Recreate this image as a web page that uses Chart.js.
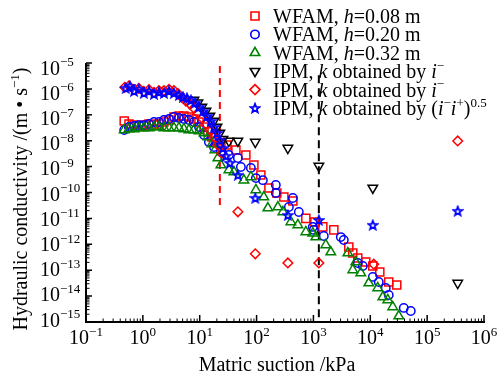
<!DOCTYPE html>
<html><head><meta charset="utf-8">
<script src="https://cdn.jsdelivr.net/npm/chart.js@4/dist/chart.umd.min.js"></script>
<style>html,body{margin:0;padding:0;background:#fff;overflow:hidden}</style>
</head><body>
<canvas id="c" width="497" height="379"></canvas>
<script>
const FONT = '"Liberation Serif","Times New Roman",serif';

// ---- tick labels ----
const xTickVals = [1e-1, 1e0, 1e1, 1e2, 1e3, 1e4, 1e5, 1e6];
const xTickExp  = ['\u22121', '0', '1', '2', '3', '4', '5', '6'];
const yTickVals = [1e-5, 1e-6, 1e-7, 1e-8, 1e-9, 1e-10, 1e-11, 1e-12, 1e-13, 1e-14, 1e-15];
const yTickExp  = ['\u22125', '\u22126', '\u22127', '\u22128', '\u22129', '\u221210', '\u221211', '\u221212', '\u221213', '\u221214', '\u221215'];

// ---- WFAM, h = 0.08 m (red squares) ----
const wfam008S = [0.47,0.57,0.70,0.85,1.04,1.28,1.57,1.92,2.35,2.88,3.52,4.31,5.27,6.46,7.91,9.7,11.9,13.9,16.4,19.3,23.6,30.1,43.3,64.8,89.7,119,165,227,302,435,735,1059,1463,2284,4190,4920,6030,8330,11070,14700,21100,29200];
const wfam008K = [5.8e-8,4.4e-8,4.0e-8,3.7e-8,4.0e-8,4.4e-8,4.0e-8,4.4e-8,5.3e-8,6.3e-8,8.2e-8,9.0e-8,9.0e-8,8.2e-8,6.9e-8,5.3e-8,3.4e-8,2.2e-8,1.4e-8,9.7e-9,8.1e-9,6.8e-9,4.4e-9,2.8e-9,1.15e-9,4.7e-10,1.5e-10,9.6e-11,6.7e-11,4.7e-11,1.0e-11,7.3e-12,4.7e-12,3.6e-12,7.9e-13,4.6e-13,2.96e-13,2.07e-13,1.45e-13,8.5e-14,3.5e-14,2.7e-14];

// ---- WFAM, h = 0.20 m (blue circles) ----
const wfam020S = [0.47,0.57,0.70,0.85,1.04,1.28,1.57,1.92,2.35,2.88,3.52,4.31,5.27,6.46,7.91,9.7,11.9,14.5,17.8,23.6,32.6,46.9,53,79.4,97.3,129,218,218,370,435,553,975,1016,1523,3030,3420,6030,7380,11070,14100,18700,21100,38800,51500];
const wfam020K = [2.6e-8,3.4e-8,3.7e-8,4.0e-8,4.0e-8,4.4e-8,5.3e-8,5.3e-8,6.3e-8,6.9e-8,8.2e-8,7.5e-8,6.9e-8,6.3e-8,5.3e-8,3.4e-8,1.66e-8,8.9e-9,5.7e-9,3.7e-9,2.8e-9,2.15e-9,9.7e-10,8.8e-10,3.6e-10,3.0e-10,1.95e-10,9.6e-11,2.75e-11,6.1e-11,1.77e-11,4.7e-12,3.6e-12,2.1e-12,1.9e-12,1.47e-12,1.9e-13,1.45e-13,5.5e-14,3.5e-14,2.06e-14,1.1e-14,3.5e-15,2.66e-15];

// ---- WFAM, h = 0.32 m (green triangles) ----
const wfam032S = [0.47,0.57,0.70,0.85,1.04,1.28,1.57,1.92,2.35,2.88,3.52,4.31,5.27,6.46,7.91,9.7,11.9,13.9,16.4,18.5,20.9,23.6,32.6,39.9,59.8,79.4,97.3,134,158,237,290,401,532,735,975,1100,1650,2020,4030,5560,4920,6800,9420,13500,16600,20300,24800,31700];
const wfam032K = [2.6e-8,2.83e-8,2.83e-8,3.1e-8,3.1e-8,3.1e-8,3.4e-8,3.4e-8,3.1e-8,3.1e-8,3.1e-8,3.1e-8,2.83e-8,2.6e-8,2.6e-8,2.37e-8,1.98e-8,1.4e-8,7.5e-9,4.4e-9,2.15e-9,1.15e-9,7.4e-10,6.2e-10,3.0e-10,4.0e-10,1.25e-10,6.7e-11,2.5e-11,2.75e-11,1.77e-11,7.3e-12,5.6e-12,3.0e-12,2.7e-12,1.9e-12,9.4e-13,5.0e-13,4.6e-13,2.07e-13,1.02e-13,7.8e-14,3.2e-14,2.06e-14,9.2e-15,7.1e-15,3.8e-15,1.7e-15];

// ---- IPM, k by i- (black down triangles) ----
const ipmBlackS = [7.91,9.3,10.9,12.9,15.1,17.8,20.1,22.6,25.6,32.6,46.9,95,355,1245,11070,345000];
const ipmBlackK = [3.7e-7,2.9e-7,2.0e-7,1.4e-7,9.0e-8,5.8e-8,3.4e-8,2.0e-8,1.15e-8,9.7e-9,9.8e-9,8.9e-9,5.2e-9,1.05e-9,1.5e-10,3.2e-14];

// ---- IPM, k by i- (red diamonds) ----
const ipmRedS = [0.48,0.57,0.70,0.85,1.04,1.28,1.57,1.92,2.35,2.88,3.52,4.14,4.86,5.71,6.73,7.9,9.3,10.9,12.9,15.1,17.8,20.9,24.5,46.9,95,355,1245,11500,345000];
const ipmRedK = [1.15e-6,1.3e-6,9.3e-7,1.05e-6,8.0e-7,9.3e-7,7.4e-7,8.6e-7,8.6e-7,9.6e-7,8.6e-7,6.6e-7,4.7e-7,3.4e-7,2.6e-7,1.8e-7,1.17e-7,7.5e-8,4.4e-8,2.6e-8,1.4e-8,6.8e-9,3.3e-9,1.8e-11,4.3e-13,1.9e-13,1.9e-13,1.7e-13,9.8e-9];

// ---- IPM, k by (i- i+)^0.5 (blue stars) ----
const ipmStarS = [0.50,0.59,0.70,0.85,1.04,1.28,1.57,1.92,2.35,2.88,3.52,4.31,5.07,5.96,7.0,8.2,9.7,11.4,13.4,15.7,17.8,20.1,22.6,25.6,28.8,33.9,46.9,95,355,1245,11070,345000];
const ipmStarK = [1.08e-6,1.3e-6,8.3e-7,9.9e-7,7.0e-7,8.3e-7,6.4e-7,7.6e-7,7.0e-7,8.3e-7,7.0e-7,5.8e-7,4.9e-7,4.5e-7,3.7e-7,2.9e-7,2.0e-7,1.4e-7,9.0e-8,5.8e-8,3.4e-8,2.0e-8,1.06e-8,5.2e-9,2.6e-9,1.4e-9,4.8e-10,6.2e-11,1.35e-11,8.7e-12,5.6e-12,1.95e-11];

// ---- reference lines ----
const redLineS = [22.6, 22.6];
const redLineK = [7.6e-6, 2.8e-11];
const blackLineS = [1245, 1245];
const blackLineK = [3.4e-6, 1e-15];

const RED = '#ff0000', BLUE = '#0000ff', GREEN = '#008000', BLACK = '#000000';

function pts(s, k) { return s.map((v, i) => ({ x: v, y: k[i] })); }

function makeStar(size) {
  const c = document.createElement('canvas');
  c.width = size; c.height = size;
  const g = c.getContext('2d');
  g.strokeStyle = BLUE; g.lineWidth = 1.8; g.lineJoin = 'miter';
  g.beginPath();
  for (let i = 0; i < 10; i++) {
    const r = i % 2 ? 2.0 : 4.6;
    const a = -Math.PI / 2 + i * Math.PI / 5;
    const px = size / 2 + r * Math.cos(a), py = size / 2 + 0.5 + r * Math.sin(a);
    if (i) g.lineTo(px, py); else g.moveTo(px, py);
  }
  g.closePath(); g.stroke();
  return c;
}
const starImg = makeStar(12);

function ds(s, k, color, style, radius, rot) {
  return {
    data: pts(s, k), pointStyle: style, pointRadius: radius, pointRotation: rot || 0,
    pointBorderColor: color, pointBackgroundColor: 'rgba(0,0,0,0)', pointBorderWidth: 1.5,
    showLine: false, clip: false
  };
}

function sup(ctx, runs, x, y, size) {
  let cx = x;
  for (const r of runs) {
    if (r.sp) {
      ctx.font = Math.round(size * 0.65) + 'px ' + FONT;
      ctx.fillText(r.t, cx, y - size * 0.42);
    } else {
      ctx.font = (r.it ? 'italic ' : '') + size + 'px ' + FONT;
      ctx.fillText(r.t, cx, y);
    }
    cx += ctx.measureText(r.t).width;
  }
  return cx - x;
}
function runsWidth(ctx, runs, size) {
  let w = 0;
  for (const r of runs) {
    ctx.font = r.sp ? Math.round(size * 0.65) + 'px ' + FONT : (r.it ? 'italic ' : '') + size + 'px ' + FONT;
    w += ctx.measureText(r.t).width;
  }
  return w;
}

function marker(ctx, kind, x, y) {
  ctx.save();
  ctx.lineWidth = 1.6;
  ctx.beginPath();
  if (kind === 'sq') { ctx.strokeStyle = RED; ctx.rect(x - 4, y - 4, 8, 8); }
  else if (kind === 'ci') { ctx.strokeStyle = BLUE; ctx.arc(x, y, 4.2, 0, Math.PI * 2); }
  else if (kind === 'tu') { ctx.strokeStyle = GREEN; ctx.moveTo(x, y - 5.5); ctx.lineTo(x + 4.76, y + 2.75); ctx.lineTo(x - 4.76, y + 2.75); ctx.closePath(); }
  else if (kind === 'td') { ctx.strokeStyle = BLACK; ctx.moveTo(x, y + 5.5); ctx.lineTo(x + 4.76, y - 2.75); ctx.lineTo(x - 4.76, y - 2.75); ctx.closePath(); }
  else if (kind === 'di') { ctx.strokeStyle = RED; ctx.moveTo(x, y - 5); ctx.lineTo(x + 5, y); ctx.lineTo(x, y + 5); ctx.lineTo(x - 5, y); ctx.closePath(); }
  if (kind === 'st') { ctx.drawImage(starImg, x - 6, y - 6); }
  else ctx.stroke();
  ctx.restore();
}

const legendItems = [
  { m: 'sq', runs: [{ t: 'WFAM, ' }, { t: 'h', it: true }, { t: '=0.08 m' }] },
  { m: 'ci', runs: [{ t: 'WFAM, ' }, { t: 'h', it: true }, { t: '=0.20 m' }] },
  { m: 'tu', runs: [{ t: 'WFAM, ' }, { t: 'h', it: true }, { t: '=0.32 m' }] },
  { m: 'td', runs: [{ t: 'IPM, ' }, { t: 'k', it: true }, { t: ' obtained by ' }, { t: 'i', it: true }, { t: '\u2212', sp: true }] },
  { m: 'di', runs: [{ t: 'IPM, ' }, { t: 'k', it: true }, { t: ' obtained by ' }, { t: 'i', it: true }, { t: '\u2212', sp: true }] },
  { m: 'st', runs: [{ t: 'IPM, ' }, { t: 'k', it: true }, { t: ' obtained by (' }, { t: 'i', it: true }, { t: '\u2212', sp: true }, { t: 'i', it: true }, { t: '+', sp: true }, { t: ')' }, { t: '0.5', sp: true }] }
];

const deco = {
  id: 'deco',
  afterDraw(chart) {
    const { ctx, chartArea: a, scales: { x, y } } = chart;
    ctx.save();
    ctx.fillStyle = '#000'; ctx.strokeStyle = '#000';
    ctx.lineWidth = 2;
    ctx.beginPath();
    ctx.moveTo(a.left, a.top); ctx.lineTo(a.left, a.bottom); ctx.lineTo(a.right + 1, a.bottom);
    ctx.stroke();
    ctx.lineWidth = 1.5;
    ctx.beginPath();
    for (const v of xTickVals) { const px = x.getPixelForValue(v); ctx.moveTo(px, a.bottom); ctx.lineTo(px, a.bottom - 7); }
    for (const v of yTickVals) { const py = y.getPixelForValue(v); ctx.moveTo(a.left, py); ctx.lineTo(a.left + 6, py); }
    ctx.stroke();
    ctx.lineWidth = 1;
    ctx.beginPath();
    for (let d = -1; d < 6; d++) for (let m = 2; m < 10; m++) {
      const px = x.getPixelForValue(m * Math.pow(10, d)); ctx.moveTo(px, a.bottom); ctx.lineTo(px, a.bottom - 3.5);
    }
    for (let d = -15; d < -5; d++) for (let m = 2; m < 10; m++) {
      const py = y.getPixelForValue(m * Math.pow(10, d)); ctx.moveTo(a.left, py); ctx.lineTo(a.left + 3.5, py);
    }
    ctx.stroke();
    ctx.textBaseline = 'alphabetic'; ctx.textAlign = 'left';
    const FS = 20;
    xTickVals.forEach((v, i) => {
      const px = x.getPixelForValue(v);
      const runs = [{ t: '10' }, { t: xTickExp[i], sp: true }];
      const w = runsWidth(ctx, runs, FS);
      sup(ctx, runs, px - w / 2, 344, FS);
    });
    yTickVals.forEach((v, i) => {
      const py = y.getPixelForValue(v);
      const off = 5 - 0.7 * i;
      sup(ctx, [{ t: '10' }, { t: yTickExp[i], sp: true }], 40, py + off + 6.5, FS);
    });
    const xt = [{ t: 'Matric suction /kPa' }];
    sup(ctx, xt, 277 - runsWidth(ctx, xt, FS) / 2, 371, FS);
    ctx.save();
    ctx.translate(27, 199);
    ctx.rotate(-Math.PI / 2);
    const yt = [{ t: 'Hydraulic conductivity /(m \u2022 s' }, { t: '\u22121', sp: true }, { t: ')' }];
    sup(ctx, yt, -runsWidth(ctx, yt, FS) / 2, 0, FS);
    ctx.restore();
    legendItems.forEach((it, i) => {
      const cy = 16 + i * 18.4;
      marker(ctx, it.m, 255, cy);
      ctx.fillStyle = '#000';
      sup(ctx, it.runs, 273, cy + 7, FS);
    });
    ctx.restore();
  }
};

new Chart(document.getElementById('c').getContext('2d'), {
  type: 'scatter',
  data: {
    datasets: [
      ds(ipmStarS, ipmStarK, BLUE, starImg, 5),
      ds(ipmRedS, ipmRedK, RED, 'rectRot', 4.8),
      ds(ipmBlackS, ipmBlackK, BLACK, 'triangle', 5.5, 180),
      ds(wfam032S, wfam032K, GREEN, 'triangle', 5.5),
      ds(wfam020S, wfam020K, BLUE, 'circle', 4.2),
      ds(wfam008S, wfam008K, RED, 'rect', 5.7),
      { data: pts(redLineS, redLineK), showLine: true, borderColor: RED, borderWidth: 2, borderDash: [7, 5], pointRadius: 0, clip: false },
      { data: pts(blackLineS, blackLineK), showLine: true, borderColor: BLACK, borderWidth: 2, borderDash: [8, 5], pointRadius: 0, clip: false }
    ]
  },
  options: {
    responsive: false, animation: false, devicePixelRatio: 1,
    layout: { padding: { left: 86, right: 13, top: 63, bottom: 57 } },
    plugins: { legend: { display: false }, tooltip: { enabled: false } },
    scales: {
      x: { type: 'logarithmic', min: 0.1, max: 1e6, display: false },
      y: { type: 'logarithmic', min: 1e-15, max: 1e-5, display: false }
    }
  },
  plugins: [deco]
});
</script>
</body></html>
